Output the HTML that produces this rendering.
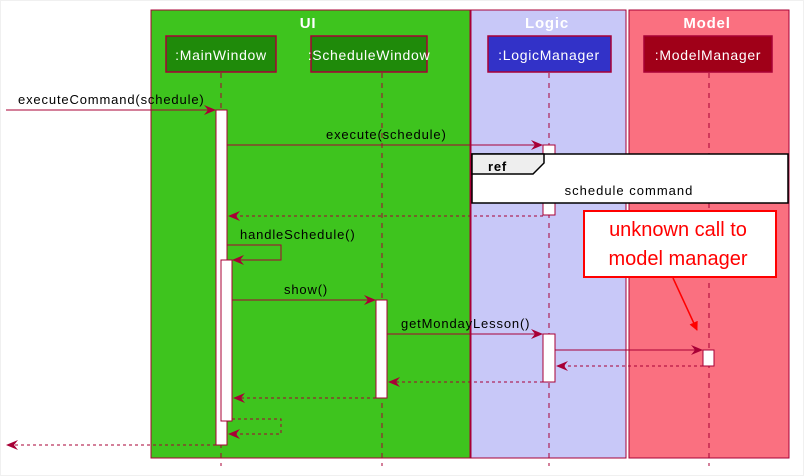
<!DOCTYPE html>
<html><head><style>body{margin:0;background:#fff}svg{display:block}text{font-family:"Liberation Sans",sans-serif}</style></head><body>
<svg width="804" height="476" viewBox="0 0 804 476" xmlns="http://www.w3.org/2000/svg">
<defs>
<marker id="a" viewBox="0 0 12 10" refX="11" refY="5" markerWidth="12" markerHeight="10" orient="auto" markerUnits="userSpaceOnUse"><path d="M0,0 L12,5 L0,10 L4,5 Z" fill="#a80036"/></marker>
<marker id="r" viewBox="0 0 10 10" refX="9" refY="5" markerWidth="9" markerHeight="9" orient="auto" markerUnits="userSpaceOnUse"><path d="M0,0 L10,5 L0,10 Z" fill="#ff0000"/></marker>
</defs>
<rect x="0.5" y="0.5" width="803" height="475" fill="#fff" stroke="#f0f0f0"/>
<rect x="151" y="10" width="319" height="448" fill="#3ec41e" stroke="#a80036"/>
<rect x="471" y="10" width="155" height="448" fill="#c8c8f8" stroke="#a80036"/>
<rect x="629" y="10" width="160" height="448" fill="#fa7080" stroke="#a80036"/>
<g font-weight="bold" font-size="15" fill="#fff" text-anchor="middle" letter-spacing="0.8">
<text x="308" y="28">UI</text><text x="547" y="28">Logic</text><text x="707" y="28">Model</text></g>
<g stroke="#a80036" stroke-dasharray="5,5">
<line x1="221" y1="73" x2="221" y2="466"/><line x1="382" y1="73" x2="382" y2="466"/>
<line x1="549" y1="73" x2="549" y2="466"/><line x1="709" y1="73" x2="709" y2="466"/></g>
<g stroke="#a80036" stroke-width="1.5">
<rect x="166" y="36" width="110" height="36" fill="#1f8a0a"/>
<rect x="311" y="36" width="116" height="36" fill="#1f8a0a"/>
<rect x="488" y="36" width="123" height="36" fill="#3232c8"/>
<rect x="644" y="36" width="128" height="36" fill="#a00018"/></g>
<g font-size="14" fill="#fff" text-anchor="middle" letter-spacing="0.7">
<text x="221" y="60">:MainWindow</text><text x="369" y="60">:ScheduleWindow</text>
<text x="549" y="60">:LogicManager</text><text x="708" y="60">:ModelManager</text></g>
<g fill="#fff" stroke="#a80036">
<rect x="216" y="110" width="11" height="335"/>
<rect x="221" y="260" width="11" height="161"/>
<rect x="376" y="300" width="11" height="98"/>
<rect x="543" y="145" width="12" height="70"/>
<rect x="543" y="334" width="12" height="48"/>
<rect x="703" y="350" width="11" height="16"/></g>
<rect x="472" y="154" width="316" height="49" fill="#fff" stroke="#000" stroke-width="1.5"/>
<path d="M472,154 H544 V163 L533,174 H472 Z" fill="#eee" stroke="#000" stroke-width="1.5"/>
<text x="488" y="171" font-size="13" font-weight="bold" letter-spacing="0.8">ref</text>
<text x="629" y="195" font-size="13" text-anchor="middle" letter-spacing="1">schedule command</text>
<g stroke="#a80036" fill="none">
<line x1="6" y1="110" x2="215" y2="110" marker-end="url(#a)"/>
<line x1="227" y1="145" x2="542" y2="145" marker-end="url(#a)"/>
<line x1="543" y1="216" x2="229" y2="216" stroke-dasharray="3,3" marker-end="url(#a)"/>
<polyline points="227,245 281,245 281,260 233,260" marker-end="url(#a)"/>
<line x1="232" y1="300" x2="375" y2="300" marker-end="url(#a)"/>
<line x1="387" y1="334" x2="542" y2="334" marker-end="url(#a)"/>
<line x1="555" y1="350" x2="702" y2="350" marker-end="url(#a)"/>
<line x1="703" y1="366" x2="557" y2="366" stroke-dasharray="3,3" marker-end="url(#a)"/>
<line x1="543" y1="382" x2="389" y2="382" stroke-dasharray="3,3" marker-end="url(#a)"/>
<line x1="376" y1="398" x2="234" y2="398" stroke-dasharray="3,3" marker-end="url(#a)"/>
<polyline points="232,419 281,419 281,434 229,434" stroke-dasharray="3,3" marker-end="url(#a)"/>
<line x1="216" y1="445" x2="7" y2="445" stroke-dasharray="3,3" marker-end="url(#a)"/>
</g>
<g font-size="13" fill="#000" letter-spacing="0.85">
<text x="18" y="104">executeCommand(schedule)</text>
<text x="326" y="139">execute(schedule)</text>
<text x="240" y="239">handleSchedule()</text>
<text x="284" y="294">show()</text>
<text x="401" y="328">getMondayLesson()</text></g>
<rect x="584" y="211" width="192" height="66" fill="#fff" stroke="#ff0000" stroke-width="2"/>
<g font-size="20" fill="#ff0000" text-anchor="middle"><text x="678" y="236">unknown call to</text><text x="678" y="265">model manager</text></g>
<line x1="673" y1="278" x2="697" y2="330" stroke="#ff0000" stroke-width="1.5" marker-end="url(#r)"/>
</svg>
</body></html>
